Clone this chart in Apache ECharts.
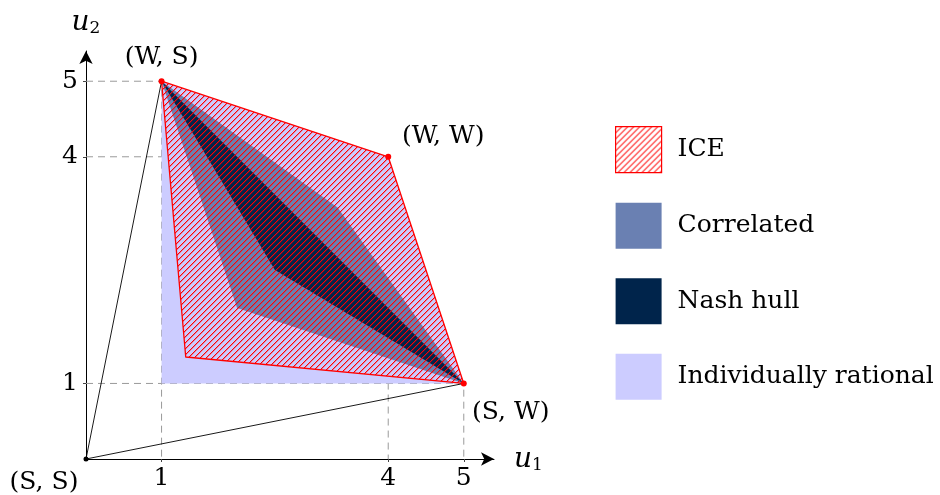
<!DOCTYPE html>
<html>
<head>
<meta charset="utf-8">
<script src="https://cdn.jsdelivr.net/npm/echarts@6/dist/echarts.min.js"></script>
<style>
html,body{margin:0;padding:0;background:#fff;}
#chart{width:940px;height:495px;}
</style>
</head>
<body>
<div id="chart"></div>
<script>
// ---- data ----
const xTicks = [1, 4, 5];
const yTicks = [1, 4, 5];
const outcomeNames = ['(W, S)', '(W, W)', '(S, W)'];
const outcomeU1 = [1, 4, 5];
const outcomeU2 = [5, 4, 1];
const originName = '(S, S)';
const originU1 = [0];
const originU2 = [0];
const hullU1 = [1, 0, 5];          // (W,S) -> (S,S) -> (S,W)
const hullU2 = [5, 0, 1];
const irU1 = [1, 1, 4, 5];         // Individually rational
const irU2 = [1, 5, 4, 1];
const corrU1 = [1, 3.33, 5, 2];    // Correlated
const corrU2 = [5, 3.33, 1, 2];
const nashU1 = [1, 2.5, 5];        // Nash hull
const nashU2 = [5, 2.5, 1];
const iceU1 = [1, 4, 5, 1.32];     // ICE
const iceU2 = [5, 4, 1, 1.35];
const legendNames = ['ICE', 'Correlated', 'Nash hull', 'Individually rational'];

// ---- styles ----
const FONT = 'DejaVu Serif';
const C_IR = '#ccccff', C_CORR = '#6a80b2', C_NASH = '#00244b', C_RED = '#ff0000';

function hatchPattern() {
  const s = 6;
  const cv = document.createElement('canvas');
  cv.width = s; cv.height = s;
  const ctx = cv.getContext('2d');
  for (let i = 0; i < s; i++) {
    ctx.fillStyle = 'rgba(255,0,0,1)';
    ctx.fillRect(i, s - 1 - i, 1, 1);
    ctx.fillStyle = 'rgba(255,0,0,0.35)';
    ctx.fillRect(i, (2 * s - i) % s, 1, 1);
  }
  return { image: cv, repeat: 'repeat' };
}
const HATCH = hatchPattern();

function polySeries(name, us, vs, style, z) {
  return {
    type: 'custom', name: name, coordinateSystem: 'cartesian2d', z: z, silent: true,
    data: us.map((u, i) => [u, vs[i]]),
    renderItem: function (params, api) {
      if (params.dataIndex !== 0) return null;
      const pts = us.map((u, i) => api.coord([u, vs[i]]));
      return { type: 'polygon', shape: { points: pts }, style: style };
    }
  };
}

const guideSeries = outcomeU1.map((gx, i) => ({
  type: 'line', silent: true, z: 1, symbol: 'none',
  lineStyle: { color: '#9a9a9a', width: 1, type: [7, 5] },
  data: [[0, outcomeU2[i]], [gx, outcomeU2[i]], [gx, 0]]
}));

const labelOffsets = [[0, -24], [55, -20], [47, 29]];
const originOffset = [-42, 23];
const pointLabel = {
  show: true, position: 'inside', fontFamily: FONT, fontSize: 25, color: '#000',
  textBorderWidth: 0, textShadowBlur: 0, opacity: 1
};
const nameRich = {
  i: { fontFamily: FONT, fontStyle: 'italic', fontSize: 28, lineHeight: 30, verticalAlign: 'bottom', color: '#000' },
  s: { fontFamily: FONT, fontSize: 17, lineHeight: 15, verticalAlign: 'bottom', color: '#000' }
};

const chart = echarts.init(document.getElementById('chart'), null, { renderer: 'canvas' });
chart.setOption({
  animation: false,
  backgroundColor: '#fff',
  textStyle: { fontFamily: FONT },
  grid: { left: 86, top: 51, width: 408, height: 408, containLabel: false },
  xAxis: {
    type: 'value', min: 0, max: 5.4,
    name: '{i|u}{s|1}', nameLocation: 'end', nameGap: 20,
    nameTextStyle: { rich: nameRich },
    splitLine: { show: false },
    axisLine: { show: true, onZero: false, symbol: ['none', 'arrow'], symbolSize: [10, 13], lineStyle: { color: '#000', width: 1 } },
    axisTick: { show: true, customValues: xTicks, length: 3, lineStyle: { color: '#444' } },
    axisLabel: { customValues: xTicks, fontFamily: FONT, fontSize: 25, color: '#000', margin: 7 }
  },
  yAxis: {
    type: 'value', min: 0, max: 5.4,
    name: '{i|u}{s|2}', nameLocation: 'end', nameGap: 14,
    nameTextStyle: { align: 'center', rich: nameRich },
    splitLine: { show: false },
    axisLine: { show: true, onZero: false, symbol: ['none', 'arrow'], symbolSize: [10, 13], lineStyle: { color: '#000', width: 1 } },
    axisTick: { show: true, customValues: yTicks, length: 3, lineStyle: { color: '#444' } },
    axisLabel: { customValues: yTicks, fontFamily: FONT, fontSize: 25, color: '#000', margin: 8 }
  },
  legend: {
    orient: 'vertical', left: 615, top: 126, padding: 0,
    itemWidth: 46, itemHeight: 46, itemGap: 29.5,
    icon: 'rect',
    textStyle: { fontFamily: FONT, fontSize: 25, color: '#000', padding: [0, 0, 0, 11] },
    selectedMode: false,
    data: [
      { name: legendNames[0], icon: 'rect', itemStyle: { color: HATCH, borderColor: C_RED, borderWidth: 1.2 } },
      { name: legendNames[1], icon: 'rect', itemStyle: { color: C_CORR, borderWidth: 0 } },
      { name: legendNames[2], icon: 'rect', itemStyle: { color: C_NASH, borderWidth: 0 } },
      { name: legendNames[3], icon: 'rect', itemStyle: { color: C_IR, borderWidth: 0 } }
    ]
  },
  series: [
    ...guideSeries,
    polySeries(legendNames[3], irU1, irU2, { fill: C_IR }, 2),
    polySeries(legendNames[1], corrU1, corrU2, { fill: C_CORR }, 3),
    polySeries(legendNames[2], nashU1, nashU2, { fill: C_NASH }, 4),
    polySeries(legendNames[0], iceU1, iceU2, { fill: HATCH, stroke: C_RED, lineWidth: 1.3, lineJoin: 'round' }, 5),
    {
      type: 'line', silent: true, z: 6, symbol: 'none',
      lineStyle: { color: '#000', width: 0.9 },
      data: hullU1.map((u, i) => [u, hullU2[i]])
    },
    {
      type: 'scatter', silent: true, z: 7, symbolSize: 6,
      itemStyle: { color: C_RED, opacity: 1 },
      label: pointLabel,
      emphasis: { disabled: true },
      data: outcomeU1.map((u, i) => ({
        value: [u, outcomeU2[i]], name: outcomeNames[i],
        label: Object.assign({}, pointLabel, { formatter: outcomeNames[i], offset: labelOffsets[i] })
      }))
    },
    {
      type: 'scatter', silent: true, z: 7, symbolSize: 5,
      itemStyle: { color: '#000', opacity: 1 },
      emphasis: { disabled: true },
      label: Object.assign({}, pointLabel, { formatter: originName, offset: originOffset }),
      data: originU1.map((u, i) => [u, originU2[i]])
    }
  ]
});
</script>
</body>
</html>
